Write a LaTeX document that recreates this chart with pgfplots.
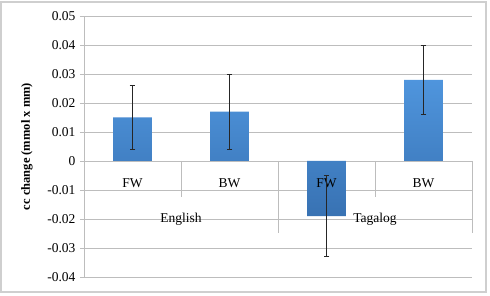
\documentclass[border=0pt]{standalone}
\usepackage{pgfplots}
\pgfplotsset{compat=1.18}
\usepackage{fontspec}
\setmainfont{Liberation Serif}
\definecolor{gridc}{HTML}{BDBDBD}
\definecolor{bartop}{HTML}{4F95DD}
\definecolor{barbot}{HTML}{3872B3}
\definecolor{framec}{HTML}{CFCFCF}
\begin{document}
\begin{tikzpicture}
\useasboundingbox (-84pt,-19pt) rectangle (406pt,277pt);
\draw[framec, line width=1.2pt] (-83pt,-15pt) rectangle (402pt,275pt);
\begin{axis}[
  at={(0pt,0pt)}, anchor=south west,
  width=388pt, height=261pt, scale only axis,
  xmin=0, xmax=4, ymin=-0.04, ymax=0.05,
  clip=false,
  axis x line=none,
  axis y line=left,
  axis line style={-, gridc, line width=0.9pt},
  xtick=\empty,
  scaled y ticks=false,
  ytick={-0.04,-0.03,-0.02,-0.01,0,0.01,0.02,0.03,0.04,0.05},
  yticklabels={-0.04,-0.03,-0.02,-0.01,0,0.01,0.02,0.03,0.04,0.05},
  tick align=outside,
  major tick length=4pt,
  ytick style={gridc, line width=0.9pt},
  yticklabel style={font=\fontsize{13.5}{15}\selectfont, xshift=-1pt},
  ymajorgrids,
  grid style={gridc, line width=0.9pt},
  ylabel={cc change (mmol x mm)},
  ylabel style={at={(axis description cs:-0.147,0.5)}, anchor=center, font=\bfseries\fontsize{12.5}{14}\selectfont},
]
% separators of the category table
\draw[gridc, line width=0.9pt] (axis cs:1,0) -- (axis cs:1,-0.0124);
\draw[gridc, line width=0.9pt] (axis cs:3,0) -- (axis cs:3,-0.0124);
\draw[gridc, line width=0.9pt] (axis cs:2,0) -- (axis cs:2,-0.0248);
\draw[gridc, line width=0.9pt] (axis cs:4,0) -- (axis cs:4,-0.0248);
\addplot[ybar, bar width=0.4, draw=none, top color=bartop, bottom color=barbot]
  coordinates {(0.5,0.015) (1.5,0.017) (2.5,-0.019) (3.5,0.028)};
\node[font=\fontsize{13.5}{15}\selectfont] at (axis cs:0.5,-0.0076) {FW};
\node[font=\fontsize{13.5}{15}\selectfont] at (axis cs:1.5,-0.0076) {BW};
\node[font=\fontsize{13.5}{15}\selectfont] at (axis cs:2.5,-0.0076) {FW};
\node[font=\fontsize{13.5}{15}\selectfont] at (axis cs:3.5,-0.0076) {BW};
\node[font=\fontsize{13.5}{15}\selectfont] at (axis cs:1,-0.0200) {English};
\node[font=\fontsize{13.5}{15}\selectfont] at (axis cs:3,-0.0200) {Tagalog};
\addplot[draw=none, mark=none, forget plot,
  error bars/.cd, y dir=both, y explicit,
  error bar style={draw=black!85, solid, line width=0.9pt},
  error mark options={draw=black!85, solid, line width=0.9pt, mark size=2.8pt, rotate=90}]
  coordinates {
    (0.5,0.015) +- (0,0.011)
    (1.5,0.017) +- (0,0.013)
    (2.5,-0.019) +- (0,0.014)
    (3.5,0.028) +- (0,0.012)
  };
\end{axis}
\end{tikzpicture}
\end{document}
